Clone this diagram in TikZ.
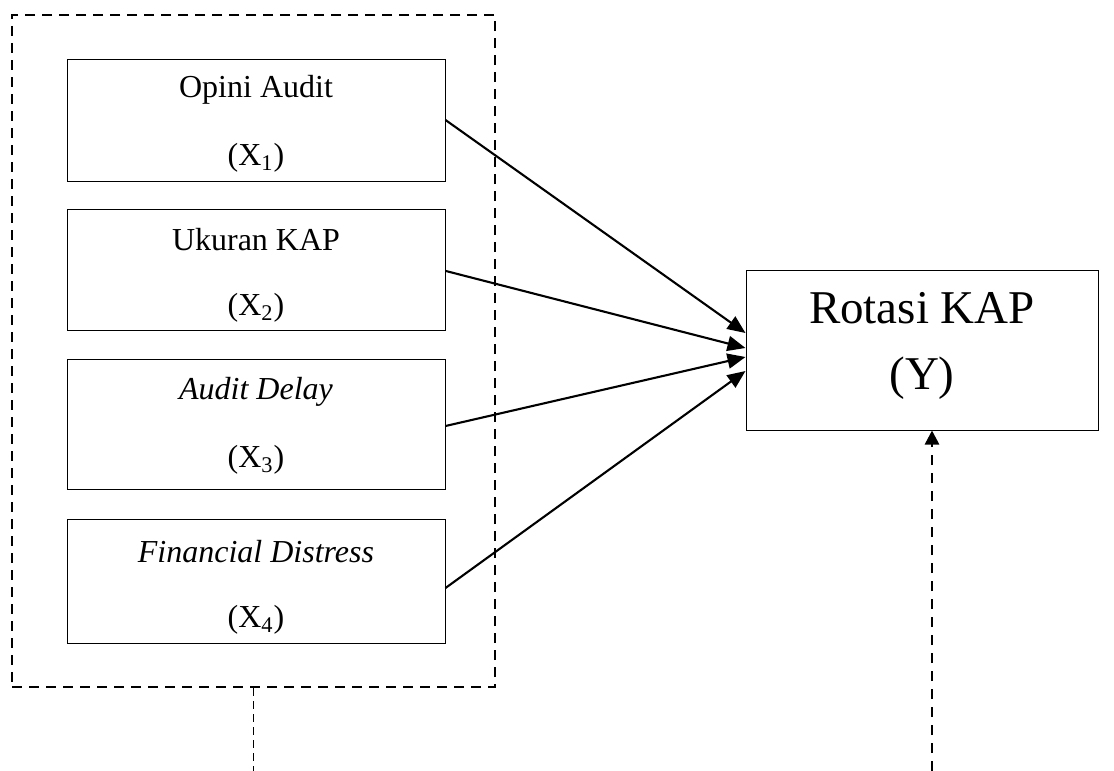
\documentclass[tikz,border=0pt]{standalone}
\usepackage{fontspec}
\setmainfont{Liberation Serif}
\usetikzlibrary{arrows.meta}
\tikzset{
  varbox/.style={draw, line width=0.5pt, minimum width=189pt, inner sep=0pt},
  lbl/.style={font=\fontsize{16}{19}\selectfont, inner sep=0pt},
  biglbl/.style={font=\fontsize{23.5}{28}\selectfont, inner sep=0pt},
  outerbox/.style={draw, line width=1.45pt, dash pattern=on 5pt off 3.5pt, minimum width=241.5pt, minimum height=336pt, inner sep=0pt},
  arr/.style={line width=1.05pt, -{Triangle[length=9pt,width=7.5pt]}},
  thindash/.style={line width=0.5pt, dash pattern=on 4pt off 2.5pt},
  thickdasharr/.style={line width=1.3pt, dash pattern=on 5pt off 4pt, -{Triangle[length=7pt,width=7pt]}}
}
\begin{document}
\begin{tikzpicture}[x=0.5pt,y=-0.5pt]
\useasboundingbox (0,0) rectangle (1114,771);
\node[outerbox] (outer) at (253.5,351) {};
\node[varbox, minimum height=61pt] (b1) at (256,120) {};
\node[varbox, minimum height=60.5pt] (b2) at (256,269.5) {};
\node[varbox, minimum height=65pt] (b3) at (256,424) {};
\node[varbox, minimum height=62pt] (b4) at (256,581) {};
\node[draw, line width=0.5pt, minimum width=176pt, minimum height=80pt, inner sep=0pt] (r) at (922,350) {};
\node[lbl] (t1a) at (256,90) {Opini Audit};
\node[lbl] (t1b) at (256,158) {(X\textsubscript{1})};
\node[lbl] (t2a) at (256,240) {Ukuran KAP};
\node[lbl] (t2b) at (256,308) {(X\textsubscript{2})};
\node[lbl] (t3a) at (256,392) {\itshape Audit Delay};
\node[lbl] (t3b) at (256,460) {(X\textsubscript{3})};
\node[lbl] (t4a) at (256,552) {\itshape Financial Distress};
\node[lbl] (t4b) at (256,620) {(X\textsubscript{4})};
\node[biglbl] (ra) at (922,308) {Rotasi KAP};
\node[biglbl] (rb) at (922,378) {(Y)};
\draw[arr] (b1.east) -- ([yshift=8.5pt]r.west);
\draw[arr] ([yshift=-0.7pt]b2.east) -- ([yshift=1pt]r.west);
\draw[arr] ([yshift=-1pt]b3.east) -- ([yshift=-3.5pt]r.west);
\draw[arr] ([yshift=-3.5pt]b4.east) -- ([yshift=-10.5pt]r.west);
\coordinate (c1) at (253.5,771);
\coordinate (c2) at (932,771);
\draw[thindash] (outer.south) -- (c1);
\draw[thickdasharr] (c2) -- ([xshift=5pt]r.south);
\end{tikzpicture}
\end{document}
